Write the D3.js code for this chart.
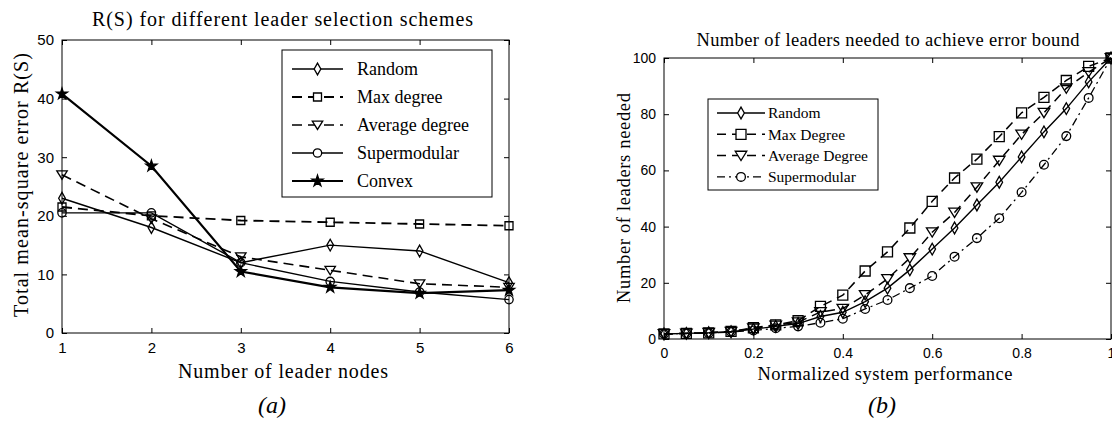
<!DOCTYPE html>
<html><head><meta charset="utf-8">
<script src="https://cdn.jsdelivr.net/npm/d3@7"></script>
<style>
body{margin:0;background:#fff;}
svg{display:block;}
</style></head>
<body><svg id="c" width="1112" height="448"></svg>
<script>
// ---------- Data: chart (a) ----------
const leaderNodes = [1, 2, 3, 4, 5, 6];
const seriesA = ["Random", "Max degree", "Average degree", "Supermodular", "Convex"];
const randomA      = [23, 18, 12, 15, 14, 8.6];
const maxDegreeA   = [21.5, 20, 19.2, 18.9, 18.6, 18.3];
const avgDegreeA   = [27, 19.5, 13, 10.7, 8.4, 7.8];
const supermodA    = [20.5, 20.5, 12, 8.8, 7, 5.7];
const convexA      = [40.8, 28.5, 10.5, 7.8, 6.8, 7.3];
const yTicksA = [0, 10, 20, 30, 40, 50];

// ---------- Data: chart (b) ----------
const perf = [0,0.05,0.1,0.15,0.2,0.25,0.3,0.35,0.4,0.45,0.5,0.55,0.6,0.65,0.7,0.75,0.8,0.85,0.9,0.95,1];
const seriesB = ["Random", "Max Degree", "Average Degree", "Supermodular"];
const randomB    = [1.8,2,2.2,2.6,3.5,4.5,5.5,8,9.5,13.3,18.1,24.6,32,39.5,47.7,55.8,64.8,73.7,82,91.5,100];
const maxDegreeB = [1.8,2,2.2,2.7,4,5,6.5,11.6,15.6,24.2,31,39.5,49,57.3,64,72,80.5,86,92,97,100];
const avgDegreeB = [1.8,2,2.2,2.6,3.8,4.8,6,9.6,10.8,15.7,21.4,28.8,38,45,54,63.5,72.8,80.5,89.2,95,100];
const supermodB  = [1.8,2,2.1,2.5,3,3.8,4.5,5.8,7.2,10.7,13.9,18.1,22.4,29.3,35.9,43,52.2,62,72.2,85.8,100];
const xTicksB = [0, 0.2, 0.4, 0.6, 0.8, 1];
const yTicksB = [0, 20, 40, 60, 80, 100];

const SERIF = '"Liberation Serif", "Times New Roman", Times, serif';
const SANS = '"Liberation Sans Narrow", "Liberation Sans", Arial, sans-serif';
const svg = d3.select("#c");

function symbolPath(type, size){ return d3.symbol().type(type).size(size)(); }
const diamondTall = { draw(ctx, size){ const w=Math.sqrt(size)*0.35, h=Math.sqrt(size)*0.62;
  ctx.moveTo(0,-h); ctx.lineTo(w,0); ctx.lineTo(0,h); ctx.lineTo(-w,0); ctx.closePath(); } };
const triDown = { draw(ctx, size){ const s=Math.sqrt(size)*0.55;
  ctx.moveTo(-s,-s*0.75); ctx.lineTo(s,-s*0.75); ctx.lineTo(0,s*0.85); ctx.closePath(); } };

function serifText(g, size, len){
  const t = g.append("text").attr("font-family",SERIF).style("font-family",SERIF)
    .style("font-size",size+"px").attr("fill","#000");
  if (len) t.attr("textLength",len).attr("lengthAdjust","spacing");
  return t;
}

function drawPanel(cfg){
  const g = svg.append("g");
  const {x, y} = cfg;
  const [x0,x1] = x.range(), [y0,y1] = y.range();
  g.append("rect").attr("x",x0).attr("y",y1).attr("width",x1-x0).attr("height",y0-y1)
    .attr("fill","none").attr("stroke","#000").attr("stroke-width",1);
  g.append("g").attr("transform",`translate(0,${y0})`)
    .call(d3.axisBottom(x).tickValues(cfg.xTicks).tickFormat(cfg.xFmt).tickSizeInner(-cfg.tick).tickSizeOuter(0).tickPadding(cfg.tick+4));
  g.append("g").attr("transform",`translate(${x0},0)`)
    .call(d3.axisLeft(y).tickValues(cfg.yTicks).tickSizeInner(-cfg.tick).tickSizeOuter(0).tickPadding(cfg.tick+3));
  g.append("g").attr("transform",`translate(0,${y1})`)
    .call(d3.axisTop(x).tickValues(cfg.xTicks).tickFormat("").tickSizeInner(-cfg.tick).tickSizeOuter(0));
  g.append("g").attr("transform",`translate(${x1},0)`)
    .call(d3.axisRight(y).tickValues(cfg.yTicks).tickFormat("").tickSizeInner(-cfg.tick).tickSizeOuter(0));
  g.selectAll(".domain").remove();
  g.selectAll(".tick line").attr("stroke","#000");
  g.selectAll(".tick text").attr("fill","#000").attr("font-family",SANS).style("font-family",SANS)
    .style("font-size",cfg.tickFont+"px");

  cfg.series.forEach(s=>{
    const line = d3.line().x((d,i)=>x(cfg.xs[i])).y(d=>y(d));
    g.append("path").attr("d",line(s.values)).attr("fill","none").attr("stroke","#000")
      .attr("stroke-width",s.lw).attr("stroke-dasharray",s.dash||null);
    g.selectAll(null).data(s.values).enter().append("path")
      .attr("transform",(d,i)=>`translate(${x(cfg.xs[i])},${y(d)})`)
      .attr("d",symbolPath(s.sym,s.size)).attr("fill",s.fill||"none").attr("stroke","#000").attr("stroke-width",1.3);
  });

  const L = cfg.legend;
  g.append("rect").attr("x",L.x).attr("y",L.y).attr("width",L.w).attr("height",L.h)
    .attr("fill","#fff").attr("stroke","#000").attr("stroke-width",1);
  cfg.series.forEach((s,i)=>{
    const yy = L.y + L.first + i*L.step;
    g.append("line").attr("x1",L.lx0).attr("x2",L.lx1).attr("y1",yy).attr("y2",yy)
      .attr("stroke","#000").attr("stroke-width",s.lw).attr("stroke-dasharray",s.dash||null);
    g.append("path").attr("transform",`translate(${(L.lx0+L.lx1)/2},${yy})`)
      .attr("d",symbolPath(s.sym,s.size)).attr("fill",s.fill||"#fff").attr("stroke","#000").attr("stroke-width",1.3);
    serifText(g, L.font).attr("x",L.tx).attr("y",yy).attr("dy","0.35em").text(s.name);
  });

  serifText(g, cfg.titleFont, cfg.titleLen).attr("x",cfg.titleX).attr("y",cfg.titleY)
    .attr("text-anchor","middle").text(cfg.title);
  serifText(g, cfg.labelFont, cfg.xLabelLen).attr("x",cfg.xLabelX).attr("y",cfg.xLabelY)
    .attr("text-anchor","middle").text(cfg.xLabel);
  serifText(g, cfg.labelFont, cfg.yLabelLen).attr("transform",`translate(${cfg.yLabelX},${cfg.yLabelC}) rotate(-90)`)
    .attr("text-anchor","middle").text(cfg.yLabel);
  serifText(g, 24).attr("x",cfg.subX).attr("y",413)
    .attr("text-anchor","middle").style("font-style","italic").text(cfg.sub);
}

// ---------- panel (a) ----------
const xA = d3.scaleLinear().domain([1,6]).range([62,509]);
const yA = d3.scaleLinear().domain([0,50]).range([333,40]);
const seriesDataA = [randomA, maxDegreeA, avgDegreeA, supermodA, convexA];
const stylesA = [
  {sym:diamondTall, size:90, lw:1.4},
  {sym:d3.symbolSquare, size:64, lw:1.8, dash:"10,6"},
  {sym:triDown, size:90, lw:1.6, dash:"10,6"},
  {sym:d3.symbolCircle, size:55, lw:1.4},
  {sym:d3.symbolStar, size:38, lw:2.2, fill:"#000"}
];
drawPanel({
  x:xA, y:yA, xs:leaderNodes, xTicks:leaderNodes, yTicks:yTicksA, xFmt:d3.format("d"), tick:5, tickFont:15,
  series: seriesA.map((n,i)=>Object.assign({name:n, values:seriesDataA[i]}, stylesA[i])),
  legend:{x:282,y:50,w:210,h:147,first:19,step:28,lx0:292,lx1:343,tx:357,font:18},
  title:"R(S) for different leader selection schemes", titleX:282.5, titleY:26, titleFont:20, titleLen:381,
  xLabel:"Number of leader nodes", xLabelX:283, xLabelY:378, xLabelLen:210,
  yLabel:"Total mean-square error R(S)", yLabelX:28, yLabelC:185, yLabelLen:264, labelFont:20,
  sub:"(a)", subX:272
});

// ---------- panel (b) ----------
const xB = d3.scaleLinear().domain([0,1]).range([664,1111]);
const yB = d3.scaleLinear().domain([0,100]).range([339,58]);
const seriesDataB = [randomB, maxDegreeB, avgDegreeB, supermodB];
const stylesB = [
  {sym:diamondTall, size:90, lw:1.4},
  {sym:d3.symbolSquare, size:100, lw:1.5, dash:"9,6"},
  {sym:triDown, size:110, lw:1.5, dash:"9,6"},
  {sym:d3.symbolCircle, size:60, lw:1.3, dash:"8,4,2,4"}
];
drawPanel({
  x:xB, y:yB, xs:perf, xTicks:xTicksB, yTicks:yTicksB, xFmt:d3.format("~g"), tick:5, tickFont:14,
  series: seriesB.map((n,i)=>Object.assign({name:n, values:seriesDataB[i]}, stylesB[i])),
  legend:{x:708,y:99,w:170,h:91,first:14,step:21.3,lx0:717,lx1:765,tx:768,font:15.5},
  title:"Number of leaders needed to achieve error bound", titleX:888, titleY:46, titleFont:18.5, titleLen:383,
  xLabel:"Normalized system performance", xLabelX:885, xLabelY:380, xLabelLen:255,
  yLabel:"Number of leaders needed", yLabelX:630, yLabelC:198, yLabelLen:210, labelFont:18.5,
  sub:"(b)", subX:882
});
</script></body></html>
